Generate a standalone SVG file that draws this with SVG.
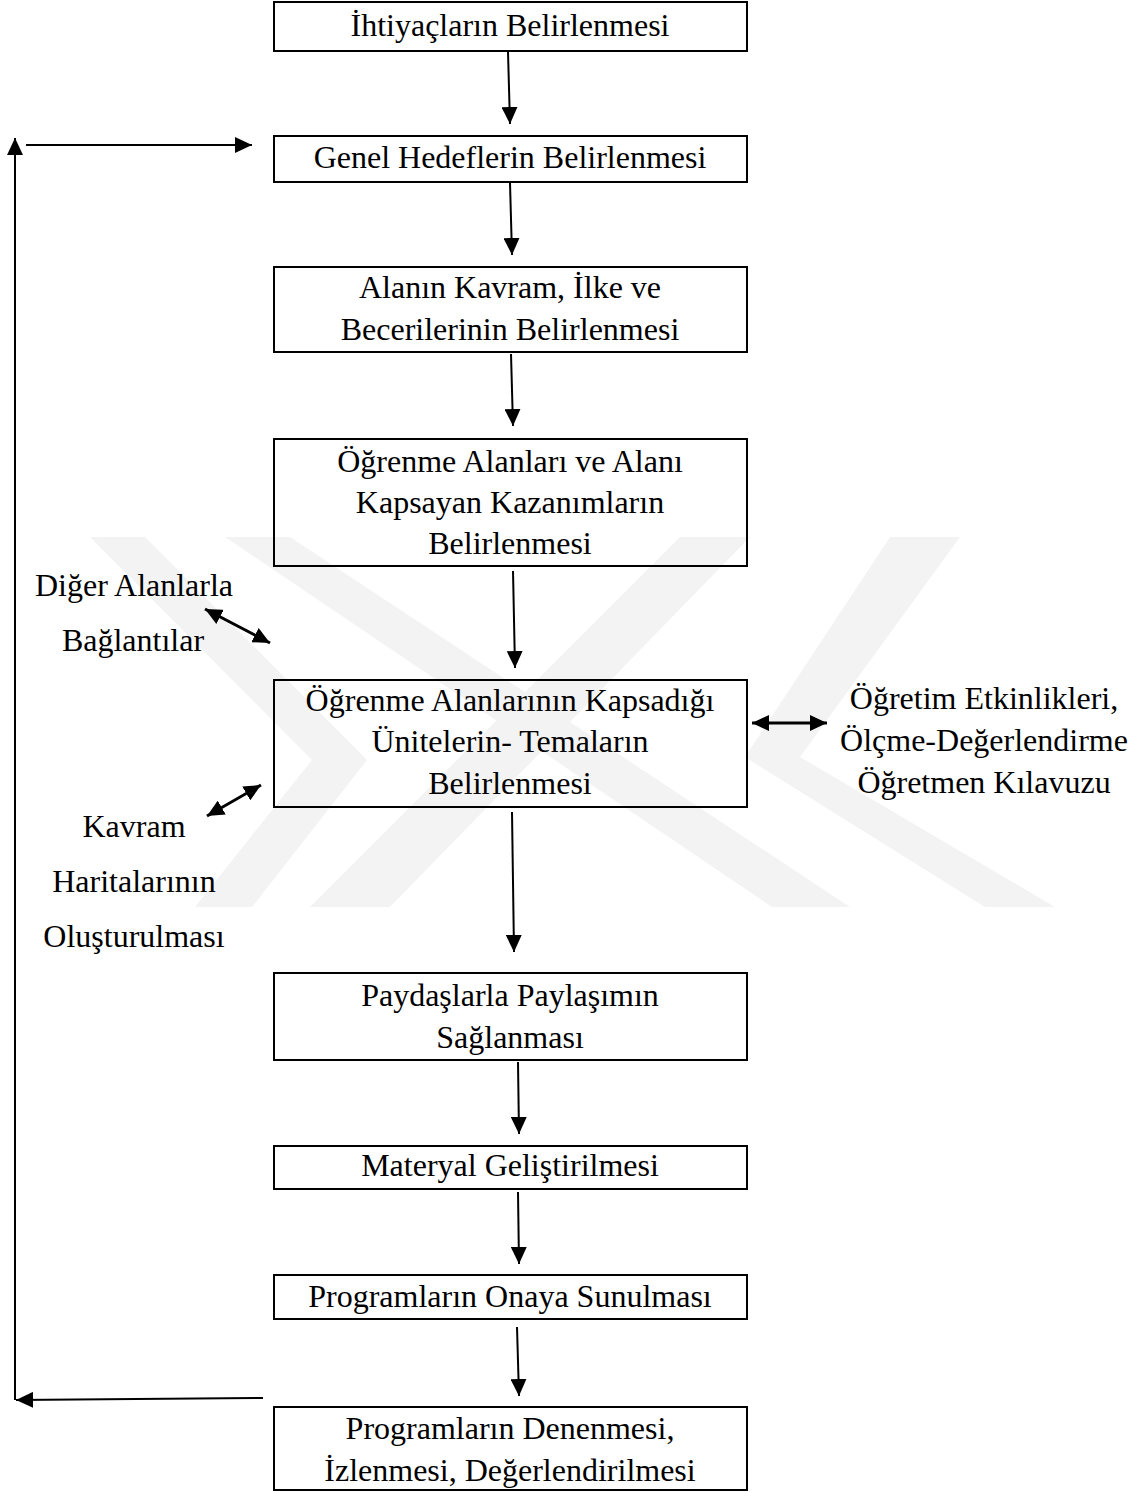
<svg xmlns="http://www.w3.org/2000/svg" width="1136" height="1492" viewBox="0 0 1136 1492">
<style>
.box{fill:none;stroke:#000;stroke-width:2}
.t{font-family:"Liberation Serif","Times New Roman",serif;font-size:32px;fill:#000;text-anchor:middle}
.c{fill:none;stroke:#000;stroke-width:2}
.c3{fill:none;stroke:#000;stroke-width:3}
.wm{fill:#f3f3f3;stroke:none}
</style>
<defs>
<marker id="ah" markerUnits="userSpaceOnUse" markerWidth="18" markerHeight="16" refX="17" refY="8" orient="auto-start-reverse">
<path d="M0,0 L17,8 L0,16 z" fill="#000"/>
</marker>
<marker id="ah2" markerUnits="userSpaceOnUse" markerWidth="18" markerHeight="16" refX="17" refY="8" orient="auto-start-reverse">
<path d="M0,0 L17,8 L0,16 z" fill="#000"/>
</marker>
</defs>
<rect width="1136" height="1492" fill="#fff"/>
<g id="watermark">
<polygon class="wm" points="90,537 145,537 367,760 252,907 195,907 312,760"/>
<polygon class="wm" points="225,537 290,537 850,907 772,907"/>
<polygon class="wm" points="890,537 960,537 800,757 1055,907 985,907 745,757"/>
<polygon class="wm" points="680,537 750,537 390,907 310,907"/>
</g>
<g id="connectors">
<line class="c" x1="508" y1="52" x2="510" y2="124" marker-end="url(#ah)"/>
<line class="c" x1="510" y1="183" x2="512" y2="255" marker-end="url(#ah)"/>
<line class="c" x1="511" y1="354" x2="513" y2="426" marker-end="url(#ah)"/>
<line class="c" x1="513" y1="571" x2="515" y2="668" marker-end="url(#ah)"/>
<line class="c" x1="512" y1="812" x2="514" y2="952" marker-end="url(#ah)"/>
<line class="c" x1="518" y1="1062" x2="519" y2="1134" marker-end="url(#ah)"/>
<line class="c" x1="518" y1="1192" x2="519" y2="1264" marker-end="url(#ah)"/>
<line class="c" x1="517" y1="1327" x2="519" y2="1396" marker-end="url(#ah)"/>
<line class="c" x1="15" y1="1400" x2="15" y2="138" marker-end="url(#ah)"/>
<line class="c" x1="26" y1="145" x2="252" y2="145" marker-end="url(#ah)"/>
<line class="c" x1="263" y1="1398" x2="16" y2="1400" marker-end="url(#ah)"/>
<line class="c3" x1="205" y1="609" x2="270" y2="643" marker-start="url(#ah2)" marker-end="url(#ah2)"/>
<line class="c3" x1="207" y1="816" x2="261" y2="785" marker-start="url(#ah2)" marker-end="url(#ah2)"/>
<line class="c3" x1="752" y1="723" x2="827" y2="723" marker-start="url(#ah2)" marker-end="url(#ah2)"/>
</g>
<g id="n1"><rect class="box" x="274" y="2" width="473" height="49"/><text class="t" x="510" y="36">İhtiyaçların Belirlenmesi</text></g>
<g id="n2"><rect class="box" x="274" y="136" width="473" height="46"/><text class="t" x="510" y="168">Genel Hedeflerin Belirlenmesi</text></g>
<g id="n3"><rect class="box" x="274" y="267" width="473" height="85"/><text class="t" x="510" y="298">Alanın Kavram, İlke ve</text><text class="t" x="510" y="340">Becerilerinin Belirlenmesi</text></g>
<g id="n4"><rect class="box" x="274" y="439" width="473" height="127"/><text class="t" x="510" y="472">Öğrenme Alanları ve Alanı</text><text class="t" x="510" y="513">Kapsayan Kazanımların</text><text class="t" x="510" y="554">Belirlenmesi</text></g>
<g id="n5"><rect class="box" x="274" y="680" width="473" height="127"/><text class="t" x="510" y="711">Öğrenme Alanlarının Kapsadığı</text><text class="t" x="510" y="752">Ünitelerin- Temaların</text><text class="t" x="510" y="794">Belirlenmesi</text></g>
<g id="n6"><rect class="box" x="274" y="973" width="473" height="87"/><text class="t" x="510" y="1006">Paydaşlarla Paylaşımın</text><text class="t" x="510" y="1048">Sağlanması</text></g>
<g id="n7"><rect class="box" x="274" y="1146" width="473" height="43"/><text class="t" x="510" y="1176">Materyal Geliştirilmesi</text></g>
<g id="n8"><rect class="box" x="274" y="1275" width="473" height="44"/><text class="t" x="510" y="1307">Programların Onaya Sunulması</text></g>
<g id="n9"><rect class="box" x="274" y="1407" width="473" height="83"/><text class="t" x="510" y="1439">Programların Denenmesi,</text><text class="t" x="510" y="1481">İzlenmesi, Değerlendirilmesi</text></g>
<g id="l1"><text class="t" x="134" y="596">Diğer Alanlarla</text><text class="t" x="133" y="651">Bağlantılar</text></g>
<g id="l2"><text class="t" x="134" y="837">Kavram</text><text class="t" x="134" y="892">Haritalarının</text><text class="t" x="134" y="947">Oluşturulması</text></g>
<g id="r1"><text class="t" x="984" y="709">Öğretim Etkinlikleri,</text><text class="t" x="984" y="751">Ölçme-Değerlendirme</text><text class="t" x="984" y="793">Öğretmen Kılavuzu</text></g>
</svg>
